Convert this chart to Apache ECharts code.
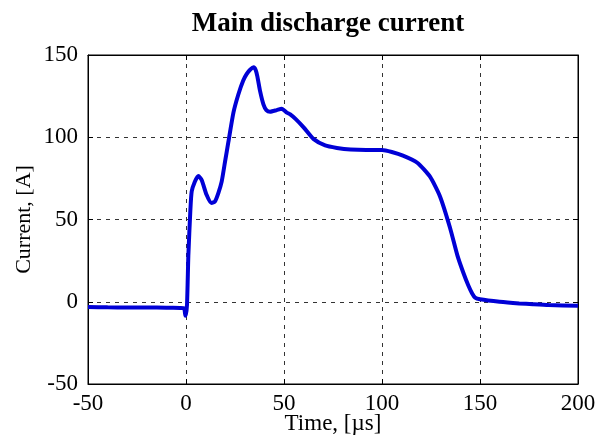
<!DOCTYPE html>
<html>
<head>
<meta charset="utf-8">
<script src="https://cdn.jsdelivr.net/npm/echarts@6/dist/echarts.min.js"></script>
<style>
  html, body { margin: 0; padding: 0; background: #fff; }
  #chart { width: 597px; height: 435px; }
</style>
</head>
<body>
<div id="chart"></div>
<script>
// time in microseconds, current in amperes
const timeUs = [
  -50, -40, -30, -20, -10, -3, -1, -0.3, 0.5, 1.2, 2.2, 2.9, 4.5, 6.3, 8, 10.5, 13, 14.8,
  16.5, 18.2, 19.9, 21.6, 24.2, 26.7, 29.2, 31, 32.7, 34.5, 35.5, 36.4, 37.8, 39.5, 41,
  42.9, 46.3, 48.8, 51.4, 53, 56, 60, 65, 71, 77, 84, 92, 100, 105, 110.7, 118, 124.5,
  129.6, 134.7, 138.5, 141.5, 144, 146, 147.5, 150, 160, 170, 177, 185, 200
];
const currentA = [
  -3.2, -3.4, -3.5, -3.5, -3.6, -3.8, -4, -8.5, -2, 28, 55, 67, 73, 76.5, 74, 65, 60, 61,
  66, 73, 85, 97, 115, 126, 134.5, 138.5, 141, 142.5, 141, 137, 128, 120, 116.5,
  115.5, 116.5, 117.3, 115, 114, 111, 106, 99, 95, 93.5, 92.5, 92.2, 92.2, 91, 88.8, 84.5, 76,
  64, 45, 28, 17.6, 10, 5, 2.5, 1.5, 0, -1, -1.5, -2, -2.5
];
const xTicks = [-50, 0, 50, 100, 150, 200];
const yTicks = [-50, 0, 50, 100, 150];

const chart = echarts.init(document.getElementById('chart'));
const serif = 'Liberation Serif';
const dashed = { show: true, lineStyle: { color: '#333', type: [4, 5], width: 1 } };
const frameAxis = {
  axisLine: { show: true, onZero: false, lineStyle: { color: '#000' } },
  axisTick: { show: true, inside: true, length: 5, lineStyle: { color: '#000' } },
  axisLabel: { show: false },
  splitLine: { show: false }
};

chart.setOption({
  animation: false,
  title: {
    text: 'Main discharge current',
    left: 323, top: 6, textAlign: 'center',
    textStyle: { fontFamily: serif, fontSize: 27, fontWeight: 'bold', color: '#000' }
  },
  grid: {
    left: 88, right: 19, top: 55, bottom: 51,
    outerBoundsMode: 'none', containLabel: false,
    show: true, borderColor: '#000', borderWidth: 1
  },
  xAxis: [{
    type: 'value', min: xTicks[0], max: xTicks[xTicks.length - 1], interval: 50,
    name: 'Time, [µs]', nameLocation: 'middle', nameGap: 28, nameMoveOverlap: false,
    nameTextStyle: { fontFamily: serif, fontSize: 23, color: '#000' },
    axisLine: { show: true, onZero: false, lineStyle: { color: '#000' } },
    axisTick: { show: true, inside: true, length: 5, lineStyle: { color: '#000' } },
    axisLabel: { fontFamily: serif, fontSize: 23, color: '#000', margin: 8 },
    splitLine: dashed
  }, Object.assign({
    type: 'value', position: 'top', min: xTicks[0], max: xTicks[xTicks.length - 1], interval: 50
  }, frameAxis)],
  yAxis: [{
    type: 'value', min: yTicks[0], max: yTicks[yTicks.length - 1], interval: 50,
    name: 'Current, [A]', nameLocation: 'middle', nameGap: 53, nameMoveOverlap: false,
    nameTextStyle: { fontFamily: serif, fontSize: 22, color: '#000' },
    axisLine: { show: true, onZero: false, lineStyle: { color: '#000' } },
    axisTick: { show: true, inside: true, length: 5, lineStyle: { color: '#000' } },
    axisLabel: { fontFamily: serif, fontSize: 23, color: '#000', margin: 10 },
    splitLine: dashed
  }, Object.assign({
    type: 'value', position: 'right', min: yTicks[0], max: yTicks[yTicks.length - 1], interval: 50
  }, frameAxis)],
  series: [{
    type: 'line',
    data: timeUs.map((t, i) => [t, currentA[i]]),
    showSymbol: false,
    smooth: 0.2,
    lineStyle: { color: '#0000d6', width: 4 },
    z: 5
  }]
});
</script>
</body>
</html>
